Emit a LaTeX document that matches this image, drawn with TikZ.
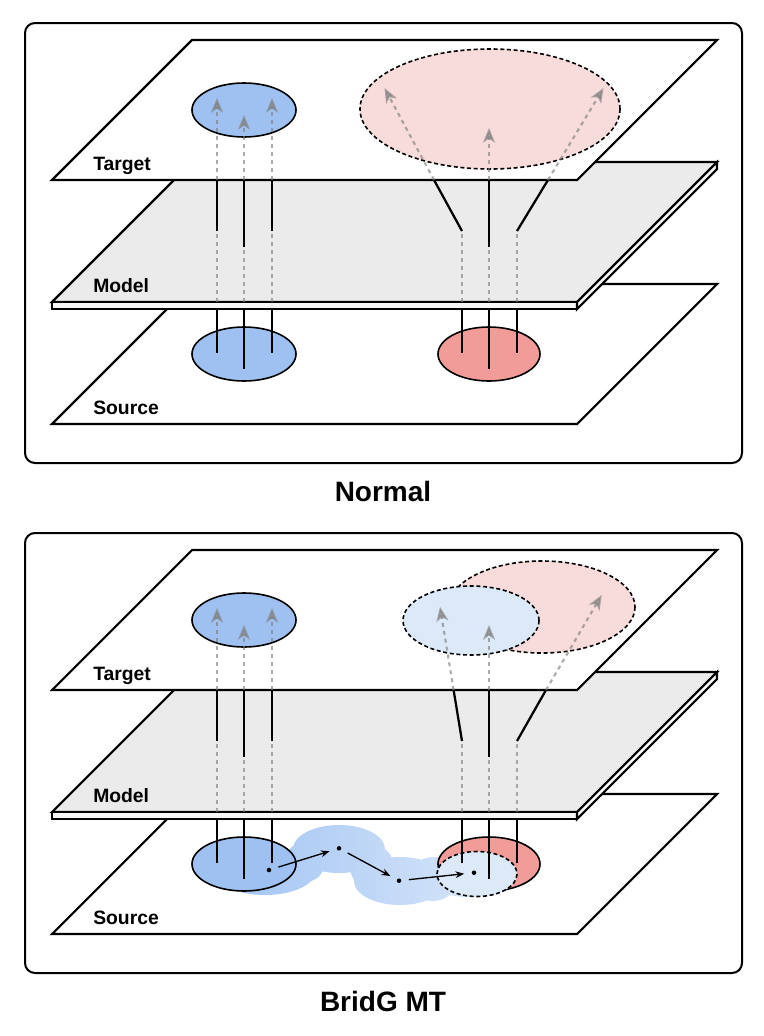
\documentclass[tikz,border=0pt]{standalone}
\usepackage{fontspec}
\setmainfont{Liberation Sans}
\usetikzlibrary{arrows.meta}

\definecolor{bluefill}{RGB}{159,193,242}
\definecolor{redfill}{RGB}{242,156,154}
\definecolor{pinkfill}{RGB}{248,219,219}
\definecolor{paleblue}{RGB}{220,233,249}
\definecolor{modelgray}{RGB}{235,235,235}
\definecolor{blobleft}{RGB}{160,195,243}
\definecolor{blobright}{RGB}{222,234,250}

\tikzstyle{frame}=[draw,line width=1.5pt,rounded corners=7.5pt]
\tikzstyle{plane}=[draw,line width=1.6pt,fill=white]
\tikzstyle{cloud}=[draw,line width=1.2pt]
\tikzstyle{fuzzy}=[draw,line width=1.2pt,dash pattern=on 3pt off 2pt]
\tikzstyle{beam}=[draw,line width=1.7pt]
\tikzstyle{ghost}=[draw=gray,opacity=.65,line width=1.6pt,dash pattern=on 3pt off 3pt]
\tikzstyle{ghostarrow}=[ghost,-{Stealth[length=11pt,width=9pt,inset=3pt]}]
\tikzstyle{layer}=[font=\bfseries\fontsize{14.5}{17}\selectfont,anchor=base west,inner sep=0pt]
\tikzstyle{title}=[font=\bfseries\fontsize{21}{25}\selectfont,anchor=base,inner sep=0pt]
\tikzstyle{token}=[circle,fill,minimum size=3.4pt,inner sep=0pt]
\tikzstyle{walk}=[draw,line width=1pt,-{Stealth[length=6.5pt,width=5pt]},shorten <=5.5pt,shorten >=5.5pt]

% the three layers of one panel
\newcommand{\sourceplane}{
  \draw[plane] (52,424) -- (577,424) -- (717,284) -- (192,284) -- cycle;
  \node[layer] (source) at (93,414) {Source};
}
\newcommand{\modelplane}{
  \draw[plane,fill=modelgray] (52,302) -- (577,302) -- (717,162) -- (192,162) -- cycle;
  \draw[plane,fill=modelgray!40] (52,302) rectangle (577,309);
  \draw[plane,fill=modelgray!40] (577,302) -- (717,162) -- (717,169) -- (577,309) -- cycle;
  \node[layer] (model) at (93,292) {Model};
}
\newcommand{\targetplane}{
  \draw[plane] (52,180) -- (577,180) -- (717,40) -- (192,40) -- cycle;
  \node[layer] (target) at (93,170) {Target};
}
% beams through the model
\newcommand{\modelbeams}{
  \foreach \x/\y in {217/353,244/369,272/353,462/353,489/369,517/353}
    \draw[beam] (\x,309) -- (\x,\y);
  \foreach \x/\y in {217/231,244/247,272/231,462/231,489/247,517/231}
    \draw[ghost] (\x,302) -- (\x,\y);
  \foreach \x/\y in {217/231,244/247,272/231,489/247}
    \draw[beam] (\x,\y) -- (\x,180);
}
\newcommand{\bluearrows}{
  \foreach \x/\y in {217/98,244/115,272/98}
    \draw[ghostarrow] (\x,180) -- (\x,\y);
}

\begin{document}
\begin{tikzpicture}[x=0.75pt,y=-0.75pt]
\useasboundingbox (0,0) rectangle (764,1036);

% ---- Normal ----
\draw[frame] (25,23) rectangle (742,463);
\sourceplane
\draw[cloud,fill=bluefill] (244,354) ellipse [x radius=52,y radius=27];
\draw[cloud,fill=redfill] (489,354) ellipse [x radius=51,y radius=27];
\modelplane
\modelbeams
\coordinate (kneeL) at (462,231);
\coordinate (kneeR) at (517,231);
\coordinate (exitL) at (434,180);
\coordinate (exitR) at (548,180);
\draw[beam] (kneeL) -- (exitL);
\draw[beam] (kneeR) -- (exitR);
\targetplane
\draw[cloud,fill=bluefill] (244,110) ellipse [x radius=52,y radius=27];
\draw[fuzzy,fill=pinkfill] (490,109) ellipse [x radius=130,y radius=60];
\bluearrows
\draw[ghostarrow] (exitL) -- (384.5,88);
\draw[ghostarrow] (489,180) -- (489,128);
\draw[ghostarrow] (exitR) -- (603.5,88);
\node[title] (normal) at (383,501.7) {Normal};

% ---- BridG MT ----
\begin{scope}[shift={(0,510)}]
\draw[frame] (25,23) rectangle (742,463);
\sourceplane
\begin{scope}
  \clip (265,362) ellipse [x radius=50,y radius=23]
        (305,352) ellipse [x radius=20,y radius=20]
        (339,339) ellipse [x radius=46,y radius=24]
        (372,357) ellipse [x radius=22,y radius=22]
        (400,371) ellipse [x radius=46,y radius=24]
        (433,369) ellipse [x radius=24,y radius=22]
        (470,368) ellipse [x radius=45,y radius=19];
  \shade[left color=blobleft,right color=blobright] (215,310) rectangle (520,400);
\end{scope}
\draw[cloud,fill=bluefill] (244,354) ellipse [x radius=52,y radius=27];
\draw[cloud,fill=redfill] (489,354) ellipse [x radius=51,y radius=27];
\draw[fuzzy,fill=paleblue] (477,364) ellipse [x radius=40,y radius=22.5];
\node[token] (d1) at (269,360) {};
\node[token] (d2) at (339,338.3) {};
\node[token] (d3) at (399,370.7) {};
\node[token] (d4) at (474,362.7) {};
\draw[walk] (d1) -- (d2);
\draw[walk] (d2) -- (d3);
\draw[walk] (d3) -- (d4);
\modelplane
\modelbeams
\coordinate (kneeL) at (462,231);
\coordinate (kneeR) at (517,231);
\coordinate (exitL) at (453.6,180);
\coordinate (exitR) at (546,180);
\draw[beam] (kneeL) -- (exitL);
\draw[beam] (kneeR) -- (exitR);
\targetplane
\draw[cloud,fill=bluefill] (244,110) ellipse [x radius=52,y radius=27];
\draw[fuzzy,fill=pinkfill] (542,97) ellipse [x radius=93,y radius=46];
\draw[fuzzy,fill=paleblue] (471,110.5) ellipse [x radius=68,y radius=34.5];
\bluearrows
\draw[ghostarrow] (exitL) -- (440,96.7);
\draw[ghostarrow] (489,180) -- (489,115);
\draw[ghostarrow] (exitR) -- (601.7,85);
\node[title] (bridg) at (383,501.7) {BridG MT};
\end{scope}
\end{tikzpicture}
\end{document}
